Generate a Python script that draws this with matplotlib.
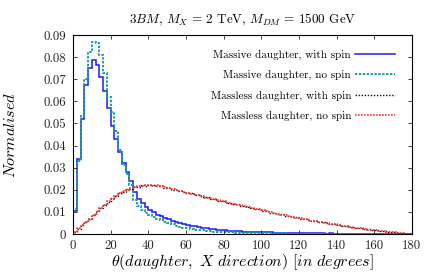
import numpy as np
import matplotlib
matplotlib.use('Agg')
import matplotlib.pyplot as plt
from matplotlib.lines import Line2D
from matplotlib.ticker import FuncFormatter

plt.rcParams['font.family'] = 'cmr10'
plt.rcParams['mathtext.fontset'] = 'cm'
plt.rcParams['axes.formatter.use_mathtext'] = True

# 2 degree bins, 0 -> 180
edges = np.arange(0, 182, 2)

massive_spin = [
    0.0105, 0.0340, 0.0520, 0.0675, 0.0750, 0.0787, 0.0763, 0.0712, 0.0648, 0.0570,
    0.0490, 0.0430, 0.0370, 0.0320, 0.0280, 0.0240, 0.0190, 0.0160, 0.0140, 0.0122,
    0.0108, 0.0098, 0.0088, 0.0080, 0.0072, 0.0066, 0.0060, 0.0055, 0.0050, 0.0046,
    0.0041, 0.0038, 0.0034, 0.0031, 0.0028, 0.0025, 0.0023, 0.0021, 0.0019, 0.0017,
    0.0016, 0.0015, 0.0014, 0.0013, 0.0012, 0.0011, 0.0010, 0.0010, 0.0009, 0.0008,
    0.0008, 0.0007, 0.0007, 0.0006, 0.0006, 0.0005, 0.0005, 0.0005, 0.0004, 0.0004,
    0.0004, 0.0004, 0.0003, 0.0003, 0.0003, 0.0003, 0.0003, 0.0002, 0.0003, 0.0002,
    0.0002, 0.0002, 0.0002, 0.0002, 0.0002, 0.0002, 0.0001, 0.0002, 0.0001, 0.0001,
    0.0001, 0.0001, 0.0001, 0.0001, 0.0001, 0.0001, 0.0001, 0.0001, 0.00005, 0.00002,
]

massive_nospin = [
    0.0112, 0.0330, 0.0533, 0.0700, 0.0825, 0.0868, 0.0866, 0.0810, 0.0730, 0.0620,
    0.0550, 0.0465, 0.0380, 0.0310, 0.0270, 0.0220, 0.0155, 0.0125, 0.0110, 0.0095,
    0.0088, 0.0078, 0.0070, 0.0062, 0.0055, 0.0049, 0.0043, 0.0037, 0.0032, 0.0028,
    0.0025, 0.0022, 0.0020, 0.0018, 0.0016, 0.0014, 0.0012, 0.0011, 0.0010, 0.0009,
    0.0008, 0.0007, 0.0007, 0.0006, 0.0006, 0.0005, 0.0005, 0.0004, 0.0004, 0.0004,
    0.0003, 0.0003, 0.0003, 0.0003, 0.0003, 0.0003, 0.0003, 0.0002, 0.0002, 0.0002,
    0.0002, 0.0002, 0.0002, 0.0002, 0.0002, 0.0002, 0.0001, 0.0001, 0.0001, 0.0001,
    0.0001, 0.0001, 0.0001, 0.0001, 0.0001, 0.0001, 0.0001, 0.0001, 0.0001, 0.0001,
    0.0001, 0.0001, 0.0001, 0.0001, 0.0001, 0.0001, 0.00005, 0.00005, 0.00003, 0.00002,
]

massless_spin = [
    0.0007, 0.0024, 0.0042, 0.0053, 0.0070, 0.0085, 0.0102, 0.0116, 0.0133, 0.0146,
    0.0162, 0.0171, 0.0186, 0.0191, 0.0203, 0.0205, 0.0213, 0.0214, 0.0220, 0.0219,
    0.0221, 0.0220, 0.0218, 0.0217, 0.0210, 0.0209, 0.0201, 0.0201, 0.0193, 0.0191,
    0.0185, 0.0184, 0.0176, 0.0176, 0.0168, 0.0166, 0.0160, 0.0158, 0.0151, 0.0151,
    0.0145, 0.0142, 0.0135, 0.0135, 0.0128, 0.0127, 0.0120, 0.0119, 0.0112, 0.0112,
    0.0105, 0.0104, 0.0097, 0.0096, 0.0090, 0.0089, 0.0083, 0.0081, 0.0076, 0.0075,
    0.0070, 0.0067, 0.0063, 0.0061, 0.0058, 0.0056, 0.0052, 0.0050, 0.0046, 0.0044,
    0.0041, 0.0038, 0.0036, 0.0033, 0.0030, 0.0028, 0.0026, 0.0023, 0.0021, 0.0019,
    0.0017, 0.0015, 0.0013, 0.0011, 0.0009, 0.0007, 0.0005, 0.0004, 0.0002, 0.0001,
]

massless_nospin = [
    0.0008, 0.0025, 0.0040, 0.0055, 0.0068, 0.0087, 0.0100, 0.0118, 0.0131, 0.0148,
    0.0160, 0.0173, 0.0184, 0.0193, 0.0201, 0.0207, 0.0212, 0.0216, 0.0219, 0.0221,
    0.0222, 0.0219, 0.0221, 0.0216, 0.0212, 0.0208, 0.0203, 0.0200, 0.0194, 0.0190,
    0.0186, 0.0183, 0.0177, 0.0175, 0.0170, 0.0165, 0.0162, 0.0157, 0.0153, 0.0150,
    0.0147, 0.0141, 0.0137, 0.0133, 0.0129, 0.0126, 0.0121, 0.0118, 0.0113, 0.0111,
    0.0107, 0.0103, 0.0099, 0.0094, 0.0092, 0.0088, 0.0085, 0.0080, 0.0078, 0.0074,
    0.0071, 0.0066, 0.0064, 0.0060, 0.0057, 0.0055, 0.0051, 0.0049, 0.0045, 0.0043,
    0.0040, 0.0037, 0.0034, 0.0032, 0.0029, 0.0027, 0.0025, 0.0022, 0.0020, 0.0018,
    0.0016, 0.0014, 0.0012, 0.0010, 0.0008, 0.0007, 0.0005, 0.0003, 0.0002, 0.0001,
]

labels = ['Massive daughter, with spin', 'Massive daughter, no spin',
          'Massless daughter, with spin', 'Massless daughter, no spin']

fig = plt.figure(figsize=(4.36, 2.73), dpi=100)
ax = fig.add_axes([0.1674, 0.1429, 0.7775, 0.7289])

# line styles per series
styles = [
    dict(color='#1a1aff', lw=1.1, ls='-'),
    dict(color='#16a0a0', lw=1.4, ls=(0, (1.2, 0.8))),
    dict(color='#111111', lw=1.0, ls=(0, (1, 1.2))),
    dict(color='#ff3030', lw=1.2, ls=(0, (1, 0.8))),
]
series = [massive_spin, massive_nospin, massless_spin, massless_nospin]

handles = []
for vals, st, lab in zip(series, styles, labels):
    ax.stairs(vals, edges, baseline=0, **st)
    handles.append(Line2D([], [], **st, label=lab))

ax.set_xlim(0, 180)
ax.set_ylim(0, 0.09)
ax.set_xticks(np.arange(0, 181, 20))
ax.set_yticks(np.arange(0, 0.0901, 0.01))
fmt = FuncFormatter(lambda v, p: '%g' % round(v, 3))
ax.xaxis.set_major_formatter(fmt)
ax.yaxis.set_major_formatter(fmt)
ax.tick_params(direction='in', top=True, right=True, length=3, width=0.6,
               labelsize=9.2, colors='#222222', pad=5)
ax.tick_params(axis='x', pad=4)
for s in ax.spines.values():
    s.set_linewidth(0.8)

ax.legend(handles=handles, loc='upper right', frameon=False, markerfirst=False,
          fontsize=8, handlelength=3.6, labelspacing=0.93,
          bbox_to_anchor=(0.963, 0.95), borderaxespad=0, handletextpad=0.35)

ax.set_title(r'$3BM$, $M_X$ = 2 TeV, $M_{DM}$ = 1500 GeV', fontsize=9.4, pad=8)
ax.set_ylabel(r'$Normalised$', fontsize=11.6)
ax.yaxis.set_label_coords(-0.163, 0.5)
ax.set_xlabel(r'$\theta(daughter,\ X\ direction)\ [in\ degrees]$', fontsize=11.5)
ax.xaxis.set_label_coords(0.5, -0.092)

fig.savefig('out.png', dpi=100)
